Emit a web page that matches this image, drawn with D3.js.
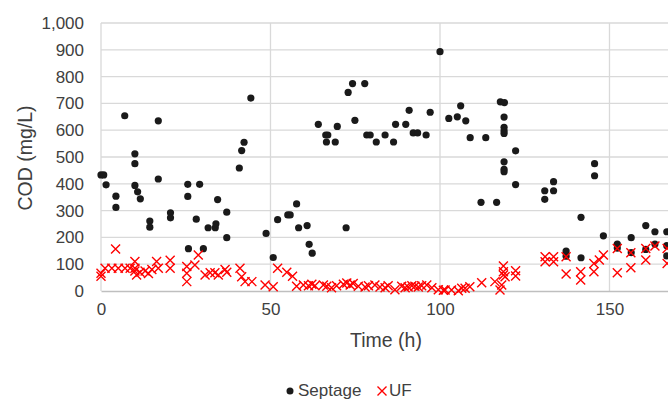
<!DOCTYPE html>
<html>
<head>
<meta charset="utf-8">
<script src="https://cdn.jsdelivr.net/npm/d3@7"></script>
<style>
  body { margin: 0; background: #fff; }
  svg { display: block; font-family: "Liberation Sans", Arial, sans-serif; }
</style>
</head>
<body>
<div id="chart"></div>
<script>
// septage COD readings, time (h) and COD (mg/L)
const septageTime = [0, 0.8, 1.5, 4.4, 4.4, 7, 10, 10, 10, 10.8, 11.6, 14.4, 14.4, 16.9, 16.9, 20.5, 20.5,
  25.6, 25.6, 25.8, 28.1, 29.1, 30.2, 31.6, 33.7, 33.9, 34.4, 37.1, 37.1, 40.8, 41.5, 42.2, 44.2, 48.7,
  50.8, 52.1, 55.1, 55.8, 57.7, 58.3, 60.8, 61.4, 62.3, 64.1, 66.3, 66.9, 66.5, 69.1, 69.7, 72.3, 72.9,
  74.2, 74.9, 77.8, 78.4, 79.4, 81.2, 83.8, 86.3, 86.9, 89.9, 90.9, 92.1, 93.4, 95.9, 97.1, 100, 102.6,
  105.1, 106.1, 107.6, 108.9, 112.1, 113.5, 116.7, 117.8, 119, 118.9, 118.9, 118.9, 118.9, 118.9, 118.9,
  118.9, 122.3, 122.3, 130.9, 130.9, 133.5, 133.5, 137.2, 137.2, 141.6, 141.6, 145.6, 145.6, 148.2,
  152.3, 152.3, 156.4, 156.4, 160.7, 160.7, 163.4, 163.4, 166.9, 166.9, 166.9];
const septageCOD = [433, 433, 396, 354, 312, 654, 512, 475, 394, 370, 344, 261, 238, 635, 418, 292, 273,
  398, 353, 158, 268, 398, 158, 236, 236, 251, 341, 294, 199, 459, 524, 555, 720, 215,
  125, 266, 284, 284, 325, 236, 244, 174, 141, 622, 582, 582, 556, 556, 614, 236, 741,
  774, 637, 774, 582, 582, 556, 582, 556, 622, 622, 674, 590, 590, 582, 667, 893, 644,
  650, 691, 635, 572, 331, 572, 331, 706, 703, 649, 611, 598, 588, 482, 454,
  445, 523, 397, 374, 342, 408, 374, 149, 130, 275, 124, 475, 430, 206,
  175, 160, 199, 143, 244, 155, 221, 175, 221, 169, 131];

// UF permeate COD readings
const ufTime = [0, 0, 1.2, 3.2, 4.3, 5.1, 7.1, 8.6, 10, 10, 10, 10.5, 11.5, 13, 14, 15, 16.4, 16.9, 20.4, 20.4,
  25.3, 25.3, 25.3, 27.7, 28.7, 30.7, 32.2, 33.6, 34.6, 36.6, 37.1, 41, 41.5, 42.5, 44.5, 48.4,
  50.8, 52.1, 54.8, 56.5, 57.7, 59.7, 61.2, 62.2, 63.1, 65.6, 66.6, 68, 69.5, 71.5, 72.5, 73.5, 74.4,
  75.9, 77.9, 78.9, 80.8, 82.3, 83.8, 84.7, 86.7, 88.7, 89.7, 90.6, 91.7, 92.6, 93.6, 94.6, 96.1, 97.6,
  99.5, 101, 101.5, 103.4, 105.4, 106.4, 107.4, 108.8, 112.3, 116.2, 117.7, 118.2, 118.7, 118.7, 118.7,
  119.2, 122.3, 122.3, 131, 133.5, 131, 133.5, 137.2, 137.2, 141.5, 141.5, 145.4, 145.4, 147, 148.2,
  152.3, 152.3, 156.3, 156.3, 160.7, 160.7, 163.4, 167, 167];
const ufCOD = [55, 66, 85, 85, 157, 85, 85, 85, 110, 85, 75, 60, 70, 75, 65, 80, 110, 85, 115, 85,
  91, 66, 35, 97, 134, 60, 68, 68, 60, 80, 70, 85, 53, 35, 35, 22,
  16, 85, 70, 55, 18, 22, 20, 25, 20, 22, 18, 12, 20, 25, 30, 22, 28,
  18, 15, 20, 22, 15, 12, 20, 5, 18, 12, 15, 20, 18, 15, 20, 22, 12,
  5, 3, 4, 4, 1, 10, 10, 16, 31, 35, 4, 22, 93, 72, 60,
  53, 76, 56, 128, 128, 109, 109, 128, 63, 72, 41, 103, 72, 116, 134,
  159, 68, 143, 87, 159, 116, 168, 159, 103];

const xTicks = [0, 50, 100, 150];
const yTicks = d3.range(0, 1001, 100);

const width = 668, height = 400;
const plotLeft = 101, plotTop = 23, plotBottom = 291;

const svg = d3.select("#chart").append("svg")
    .attr("width", width)
    .attr("height", height);

const x = d3.scaleLinear().domain([0, 170]).range([plotLeft, plotLeft + 170 * 3.39]);
const y = d3.scaleLinear().domain([0, 1000]).range([plotBottom, plotTop]);

// gridlines
svg.append("g")
    .attr("stroke", "#d9d9d9")
    .attr("stroke-width", 1.3)
  .selectAll("line")
  .data(yTicks.filter(d => d > 0))
  .join("line")
    .attr("x1", plotLeft).attr("x2", width)
    .attr("y1", d => y(d)).attr("y2", d => y(d));

svg.append("g")
    .attr("stroke", "#d9d9d9")
    .attr("stroke-width", 1.3)
  .selectAll("line")
  .data(xTicks)
  .join("line")
    .attr("x1", d => x(d)).attr("x2", d => x(d))
    .attr("y1", plotTop).attr("y2", plotBottom);

// axes
const xAxis = svg.append("g")
    .attr("transform", `translate(0,${plotBottom})`)
    .call(d3.axisBottom(x).tickValues(xTicks).tickSize(0).tickPadding(12).tickFormat(d3.format("d")));
xAxis.select(".domain").attr("stroke", "#bfbfbf").attr("stroke-width", 1.3);
xAxis.selectAll("text").attr("fill", "#404040").attr("font-size", 17);

const yAxis = svg.append("g")
    .attr("transform", `translate(${plotLeft},0)`)
    .call(d3.axisLeft(y).tickValues(yTicks).tickSize(0).tickPadding(17).tickFormat(d3.format(",")));
yAxis.select(".domain").remove();
yAxis.selectAll("text").attr("fill", "#404040").attr("font-size", 17);

// axis titles
svg.append("text")
    .attr("x", 386).attr("y", 347)
    .attr("text-anchor", "middle")
    .attr("fill", "#404040")
    .attr("font-size", 19.5)
    .text("Time (h)");

svg.append("text")
    .attr("transform", "translate(32,158) rotate(-90)")
    .attr("text-anchor", "middle")
    .attr("fill", "#404040")
    .attr("font-size", 19.5)
    .text("COD (mg/L)");

// points
const xMark = "M-4.5,-4.5L4.5,4.5M-4.5,4.5L4.5,-4.5";

svg.append("g")
    .attr("fill", "#1a1a1a")
  .selectAll("circle")
  .data(d3.zip(septageTime, septageCOD))
  .join("circle")
    .attr("cx", d => x(d[0]))
    .attr("cy", d => y(d[1]))
    .attr("r", 3.6);

svg.append("g")
    .attr("stroke", "#ff0000")
    .attr("stroke-width", 1.4)
    .attr("fill", "none")
  .selectAll("path")
  .data(d3.zip(ufTime, ufCOD))
  .join("path")
    .attr("d", xMark)
    .attr("transform", d => `translate(${x(d[0])},${y(d[1])})`);

// legend
const legend = svg.append("g").attr("font-size", 17).attr("fill", "#404040");
legend.append("circle").attr("cx", 290).attr("cy", 391).attr("r", 3.5).attr("fill", "#1a1a1a");
legend.append("text").attr("x", 298).attr("y", 396).text("Septage");
legend.append("path").attr("d", xMark).attr("transform", "translate(382,391)")
    .attr("stroke", "#ff0000").attr("stroke-width", 1.4);
legend.append("text").attr("x", 389).attr("y", 396).text("UF");
</script>
</body>
</html>
